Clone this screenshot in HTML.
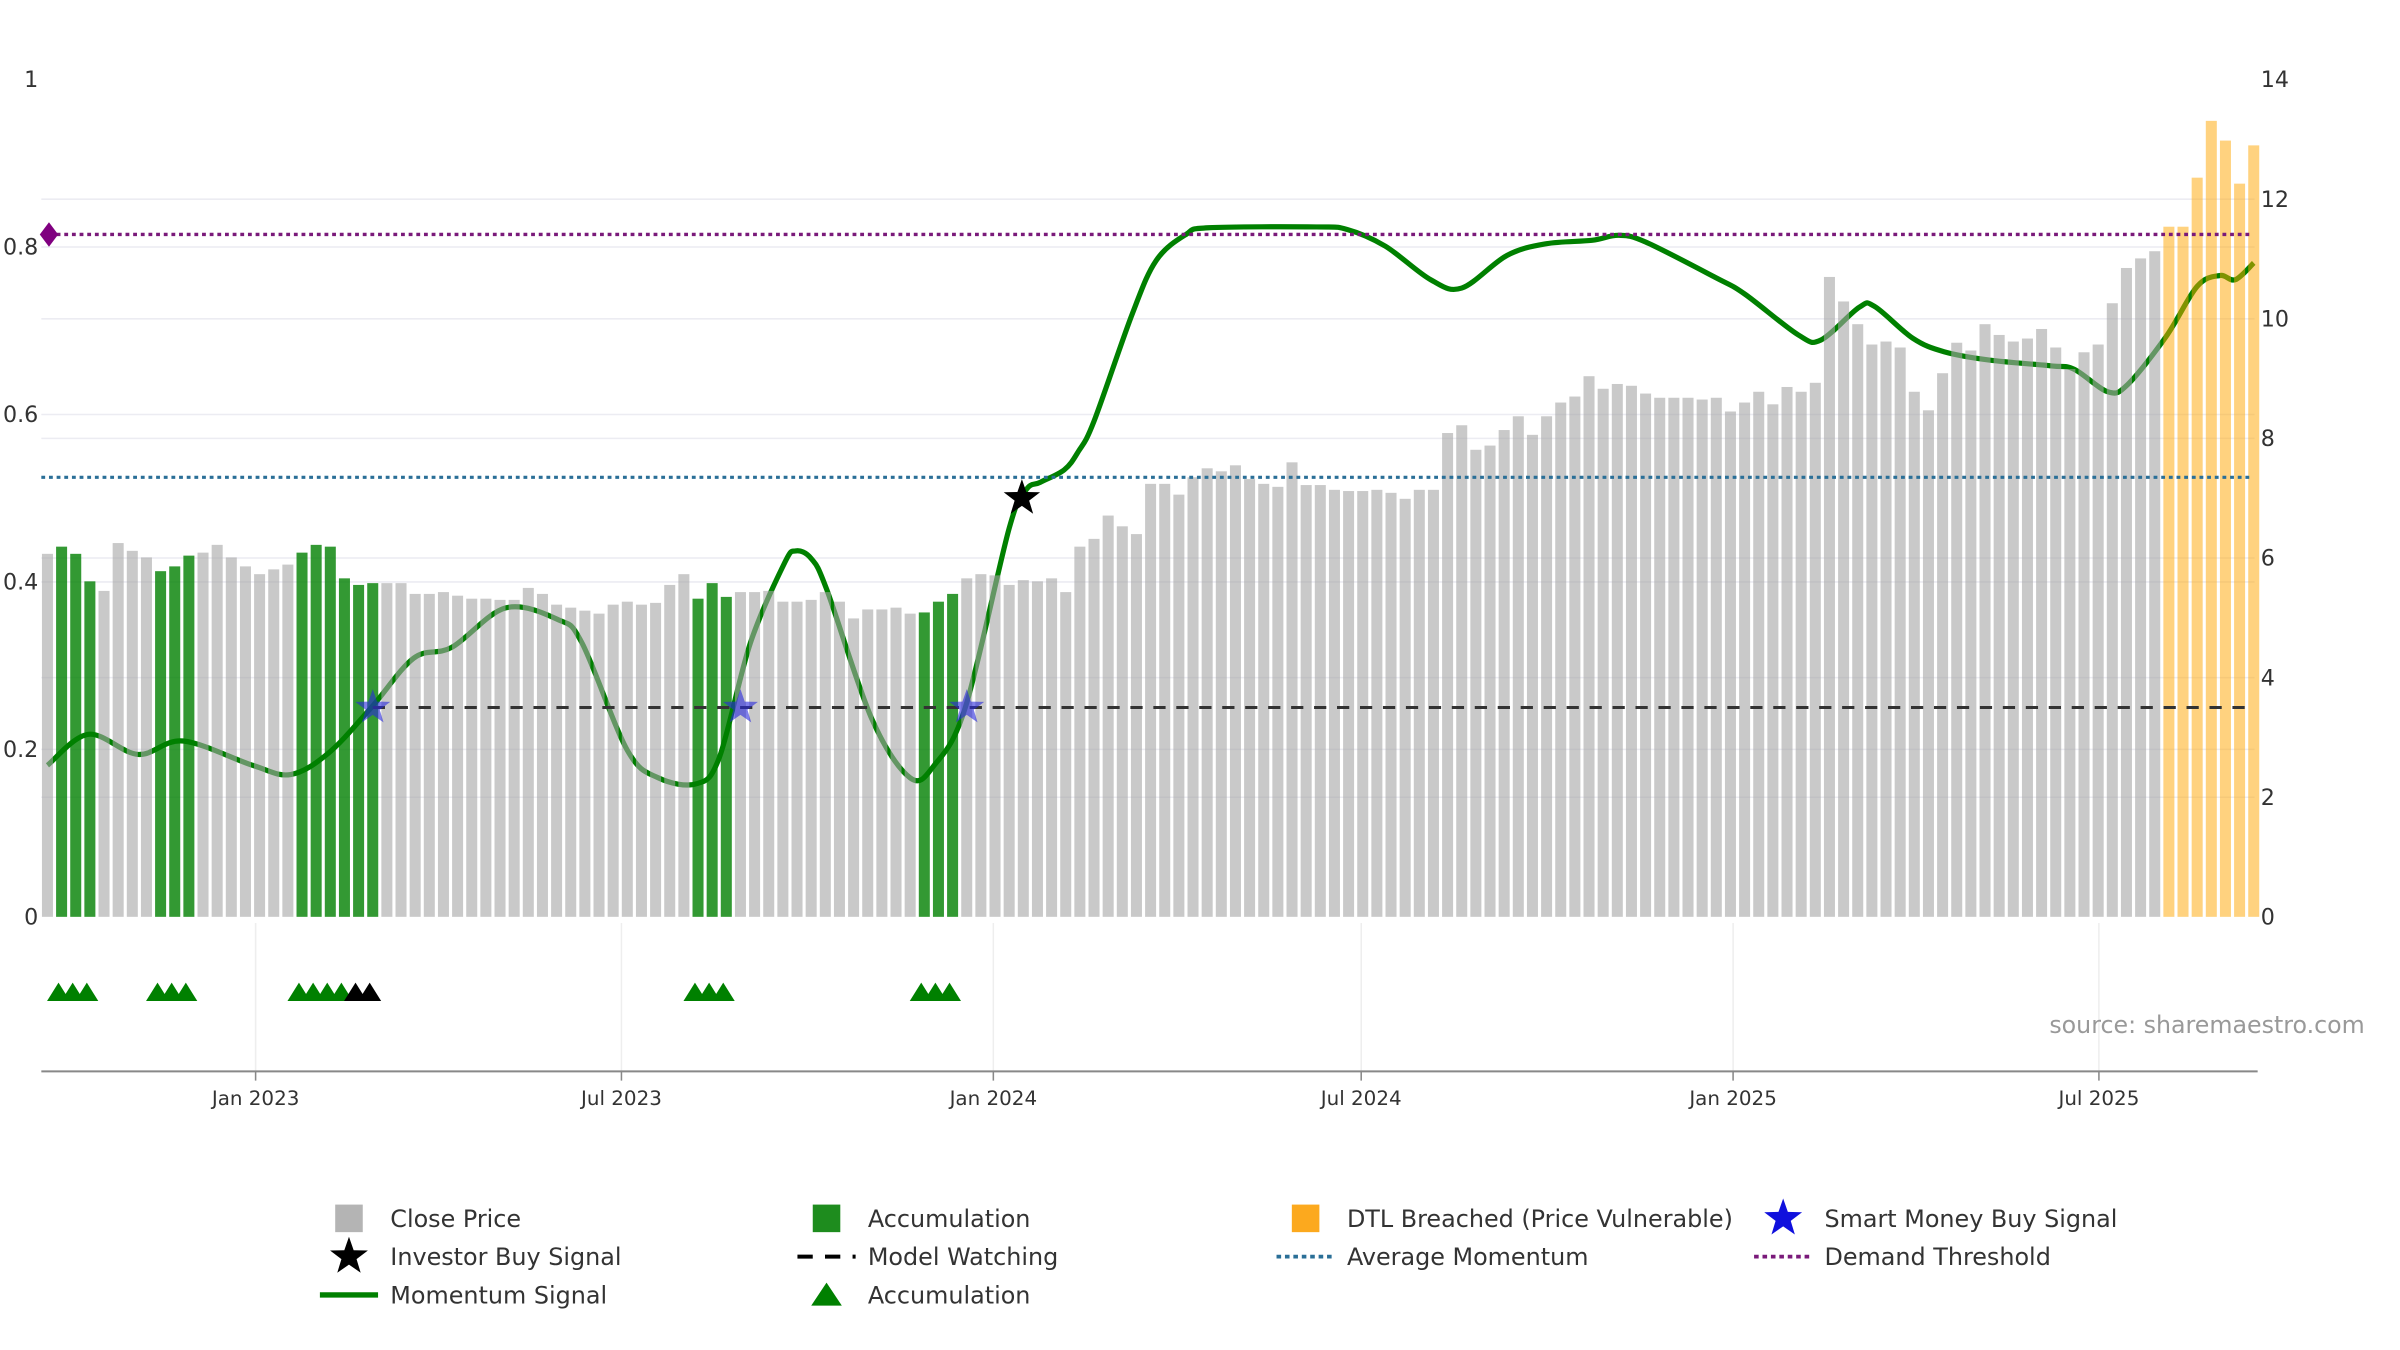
<!DOCTYPE html>
<html><head><meta charset="utf-8"><title>Momentum chart</title>
<style>
html,body{margin:0;padding:0;background:#fff;}
svg{display:block;font-family:"DejaVu Sans","Liberation Sans",sans-serif;}
</style></head>
<body>
<svg id="chart" width="2400" height="1350" viewBox="0 0 1568 882" preserveAspectRatio="none" xmlns="http://www.w3.org/2000/svg"></svg>
<script>
// ---- data ----
const priceValues = [6.07,6.19,6.07,5.61,5.45,6.25,6.12,6.01,5.78,5.86,6.04,6.09,6.22,6.01,5.86,5.73,5.81,5.89,6.09,6.22,6.19,5.66,5.55,5.58,5.58,5.58,5.40,5.40,5.43,5.37,5.32,5.32,5.30,5.30,5.50,5.40,5.22,5.17,5.12,5.07,5.22,5.27,5.22,5.25,5.55,5.73,5.32,5.58,5.35,5.43,5.43,5.45,5.27,5.27,5.30,5.43,5.27,4.99,5.14,5.14,5.17,5.07,5.09,5.27,5.40,5.66,5.73,5.71,5.55,5.63,5.61,5.66,5.43,6.19,6.32,6.71,6.53,6.40,7.24,7.24,7.06,7.35,7.50,7.45,7.55,7.32,7.24,7.19,7.60,7.22,7.22,7.14,7.12,7.12,7.14,7.09,6.99,7.14,7.14,8.09,8.22,7.81,7.88,8.14,8.37,8.06,8.37,8.60,8.70,9.04,8.83,8.91,8.88,8.75,8.68,8.68,8.68,8.65,8.68,8.45,8.60,8.78,8.57,8.86,8.78,8.93,10.70,10.29,9.91,9.57,9.62,9.52,8.78,8.47,9.09,9.60,9.47,9.91,9.73,9.62,9.67,9.83,9.52,9.16,9.44,9.57,10.26,10.85,11.01,11.13,11.54,11.54,12.36,13.31,12.98,12.26,12.90];
const accumIdx = [1,2,3,8,9,10,18,19,20,21,22,23,46,47,48,62,63,64];
const breachStart = 150;
const momIdx = [0,2.9,6.4,9.6,14.5,17.2,19.9,22.9,25.9,28.6,32.4,36.1,37.8,41.0,43.2,45.9,47.5,49.7,52.1,52.9,54.0,55.1,58.3,61.0,62.7,64.9,68.0,69.2,70.2,71.9,72.9,74.0,76.7,78.4,80.5,82.1,89.7,91.9,94.6,97.8,100.0,103.2,106.0,109.2,111.1,113.0,117.9,120.0,123.8,125.4,128.1,129.2,131.9,134.1,137.3,141.7,143.3,145.7,147.1,149.8,152.0,153.6,154.7,156.0];
const momVal = [.181,.218,.194,.210,.181,.170,.196,.250,.309,.322,.369,.355,.327,.199,.166,.159,.190,.327,.422,.437,.428,.391,.236,.166,.181,.250,.464,.510,.519,.534,.556,.592,.720,.784,.815,.823,.824,.821,.801,.761,.751,.790,.804,.808,.814,.806,.764,.744,.695,.689,.728,.729,.691,.675,.665,.658,.654,.627,.636,.693,.753,.766,.761,.781];
const smartBuyIdx = [23,49,65];
const smartBuyVal = 0.25;
const investorBuyIdx = [68.9];
const investorBuyVal = [0.50];
const triGreenIdx = [1,2,3,8,9,10,18,19,20,21,46,47,48,62,63,64];
const triBlackIdx = [22,23];
const demandThreshold = 0.815;
const avgMomentum = 0.525;
const watchLevel = 0.25;
const watchStartIdx = 23;
const leftTicks = [0,0.2,0.4,0.6,0.8,1];
const leftTickLabels = ["0","0.2","0.4","0.6","0.8","1"];
const rightTicks = [0,2,4,6,8,10,12,14];
const dateTickLabels = ["Jan 2023","Jul 2023","Jan 2024","Jul 2024","Jan 2025","Jul 2025"];
const dateTickDays = [0,181,365,547,731,912]; // days since 2023-01-01

// ---- axes ----
const NS="http://www.w3.org/2000/svg";
const svg=document.getElementById('chart');
const X0=27, X1=1473, Y0=599, YTOP=52;
const barX = i => 31 + i*9.24;
const dayX = d => 167 + d*1.3205;
const yL = v => Y0 - v*(Y0-YTOP);
const yR = v => Y0 - v*(Y0-YTOP)/14;
function el(tag,attrs,parent){const e=document.createElementNS(NS,tag);for(const k in attrs)e.setAttribute(k,attrs[k]);(parent||svg).appendChild(e);return e;}

// gridlines
const grid=el('g',{});


leftTicks.slice(1,5).forEach(v=>el('line',{x1:X0,x2:X1,y1:yL(v),y2:yL(v),stroke:'#ececf2','stroke-width':1},grid));
rightTicks.slice(1,7).forEach(v=>el('line',{x1:X0,x2:X1,y1:yR(v),y2:yR(v),stroke:'#ececf2','stroke-width':1},grid));
dateTickDays.forEach(d=>el('line',{x1:dayX(d),x2:dayX(d),y1:603,y2:700,stroke:'#eeeeee','stroke-width':1},grid));

// momentum line (behind bars)
function smoothPath(px,py){let d=`M${px[0]},${py[0]}`;for(let i=0;i<px.length-1;i++){const p0x=px[Math.max(i-1,0)],p0y=py[Math.max(i-1,0)],p3x=px[Math.min(i+2,px.length-1)],p3y=py[Math.min(i+2,px.length-1)];const c1x=px[i]+(px[i+1]-p0x)/6,c1y=py[i]+(py[i+1]-p0y)/6,c2x=px[i+1]-(p3x-px[i])/6,c2y=py[i+1]-(p3y-py[i])/6;d+=` C${c1x},${c1y} ${c2x},${c2y} ${px[i+1]},${py[i+1]}`;}return d;}
const mline=el('path',{d:smoothPath(momIdx.map(barX),momVal.map(yL)),fill:'none',stroke:'#008000','stroke-width':3.4,'stroke-linejoin':'round'});



// bars
const bars=el('g',{});


priceValues.forEach((v,i)=>{
  let fill='rgba(165,165,165,0.6)', name='close-price-bar';
  if(accumIdx.includes(i)){fill='rgba(0,128,0,0.8)';name='accumulation-bar';}
  if(i>=breachStart){fill='rgba(255,165,0,0.5)';name='dtl-breached-bar';}
  const r=el('rect',{x:barX(i)-3.6,width:7.2,y:yR(v),height:Y0-yR(v),fill:fill},bars);
  
  
});

// reference lines
const dl=el('line',{x1:X0,x2:1470,y1:yL(demandThreshold),y2:yL(demandThreshold),stroke:'#7a1a7a','stroke-width':2.2,'stroke-dasharray':'2.5 2.5'});


const al=el('line',{x1:X0,x2:1470,y1:yL(avgMomentum),y2:yL(avgMomentum),stroke:'#2a6f97','stroke-width':2,'stroke-dasharray':'2.5 2.5'});


const wl=el('line',{x1:barX(watchStartIdx),x2:1470,y1:yL(watchLevel),y2:yL(watchLevel),stroke:'#333','stroke-width':2,'stroke-dasharray':'8 7'});


const dm=el('path',{d:`M${X0-1},${yL(demandThreshold)} l6,-8 l6,8 l-6,8z`,fill:'#800080'});



// stars
function starPath(cx,cy,R){const r=R*0.4;let d='';for(let k=0;k<10;k++){const a=-Math.PI/2+k*Math.PI/5;const rr=k%2?r:R;d+=(k?'L':'M')+(cx+rr*Math.cos(a))+','+(cy+rr*Math.sin(a));}return d+'Z';}
smartBuyIdx.forEach(i=>{const s=el('path',{d:starPath(barX(i),yL(smartBuyVal),12),fill:'rgba(40,40,220,0.6)'});
  
  });
investorBuyIdx.forEach((i,k)=>{const s=el('path',{d:starPath(barX(i),yL(investorBuyVal[k]),12.5),fill:'#000'});
  
  });

// triangles
function tri(i,color,name){const cx=barX(i)-2,cy=648;const t=el('path',{d:`M${cx-7.5},${cy+6} L${cx},${cy-6} L${cx+7.5},${cy+6}Z`,fill:color});
  
  }
triGreenIdx.forEach(i=>tri(i,'#008000','accumulation-triangle'));
triBlackIdx.forEach(i=>tri(i,'#000','accumulation-triangle-black'));

// axis labels
leftTicks.forEach((v,k)=>{const t=el('text',{x:25,y:yL(v)+5,'text-anchor':'end','font-size':14.5,fill:'#333'});t.textContent=leftTickLabels[k];
  
  });
rightTicks.forEach(v=>{const t=el('text',{x:1477,y:yR(v)+5,'font-size':14.5,fill:'#333'});t.textContent=String(v);
  
  });
const ax=el('line',{x1:X0,x2:1475,y1:700,y2:700,stroke:'#888','stroke-width':1.3});


dateTickDays.forEach((d,k)=>{el('line',{x1:dayX(d),x2:dayX(d),y1:700,y2:706,stroke:'#888','stroke-width':1});
  const t=el('text',{x:dayX(d),y:722,'text-anchor':'middle','font-size':13,fill:'#333'});t.textContent=dateTickLabels[k];
  
  });
const src=el('text',{x:1545,y:675,'text-anchor':'end','font-size':15.5,fill:'#999'});src.textContent='source: sharemaestro.com';



// legend
const lg=el('g',{});


const cols=[228,540,853,1165], rows=[796,821,846];
const entries=[
 [0,0,'Close Price','sq','#b4b4b4'],[1,0,'Accumulation','sq','#1e8c1e'],[2,0,'DTL Breached (Price Vulnerable)','sq','#fca91e'],[3,0,'Smart Money Buy Signal','star','#1010dd'],
 [0,1,'Investor Buy Signal','star','#000'],[1,1,'Model Watching','dash','#000'],[2,1,'Average Momentum','dot','#2a6f97'],[3,1,'Demand Threshold','dot','#7a1a7a'],
 [0,2,'Momentum Signal','line','#008000'],[1,2,'Accumulation','tri','#008000']];
entries.forEach(([c,r,label,kind,color])=>{
  const g=el('g',{},lg);
  
  
  const cx=cols[c], cy=rows[r];
  if(kind==='sq') el('rect',{x:cx-9,y:cy-9,width:18,height:18,fill:color},g);
  if(kind==='star') el('path',{d:starPath(cx,cy,13),fill:color},g);
  if(kind==='dash') el('line',{x1:cx-19,x2:cx+19,y1:cy,y2:cy,stroke:color,'stroke-width':2.6,'stroke-dasharray':'10 8'},g);
  if(kind==='dot') el('line',{x1:cx-19,x2:cx+19,y1:cy,y2:cy,stroke:color,'stroke-width':2.4,'stroke-dasharray':'3 2.5'},g);
  if(kind==='line') el('line',{x1:cx-19,x2:cx+19,y1:cy,y2:cy,stroke:color,'stroke-width':3.5},g);
  if(kind==='tri') el('path',{d:`M${cx-10},${cy+7} L${cx},${cy-8} L${cx+10},${cy+7}Z`,fill:color},g);
  const t=el('text',{x:cx+27,y:cy+5.5,'font-size':15.6,fill:'#333'},g);t.textContent=label;
});
</script>
</body></html>
